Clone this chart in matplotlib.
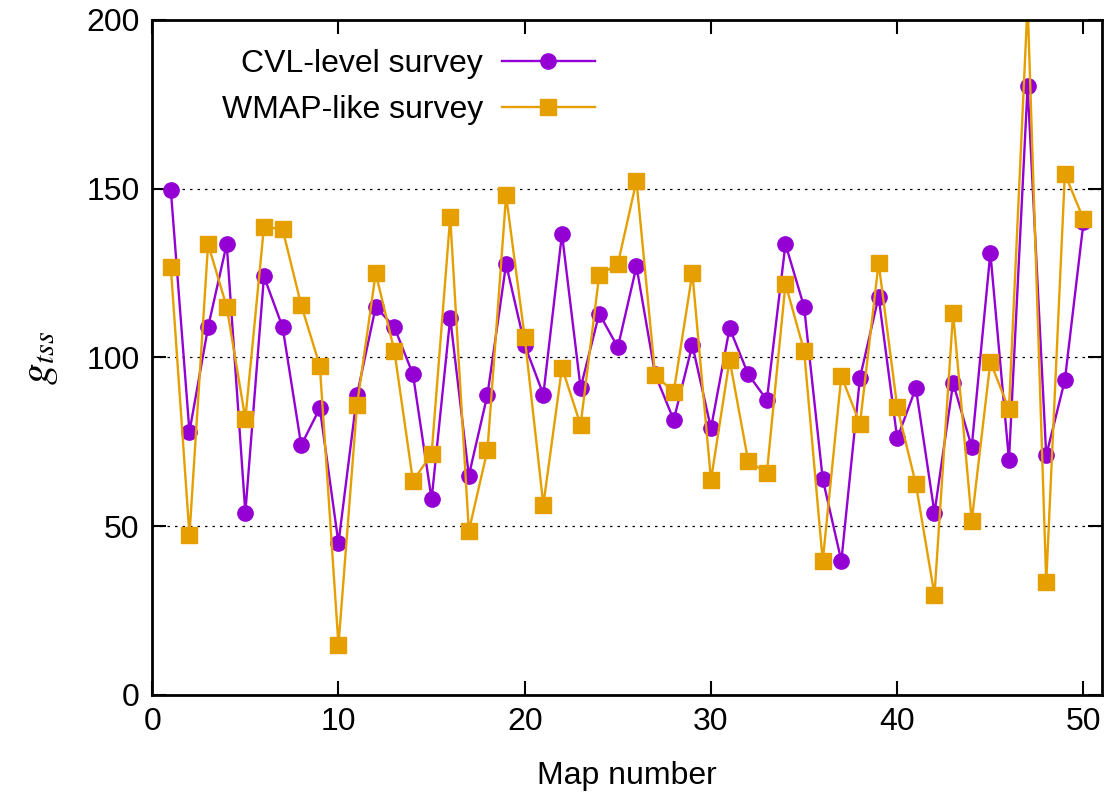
import numpy as np
import matplotlib
matplotlib.use('Agg')
import matplotlib.pyplot as plt

plt.rcParams['font.family'] = ['Liberation Sans', 'DejaVu Sans']
plt.rcParams['mathtext.fontset'] = 'stix'

# 地图编号和两种巡天的 g_tss 值
map_number = np.arange(1, 51)
cvl_level = [149.6, 78, 109, 133.6, 54, 124, 109, 74, 85, 45,
             89, 115, 109, 95, 58, 111.7, 65, 89, 127.7, 103.7,
             89, 136.6, 91, 113, 103, 127, 95, 81.5, 103.7, 79,
             108.7, 95, 87.4, 133.6, 115, 64, 39.7, 94, 118, 76,
             91, 54, 92.4, 73.5, 131, 69.6, 180.4, 71, 93.3, 140]
wmap_like = [126.8, 47.4, 133.6, 115, 81.8, 138.7, 138, 115.5, 97.5, 14.8,
             86, 125, 102, 63.4, 71.4, 141.6, 48.6, 72.6, 148, 106,
             56.3, 97, 80, 124.4, 127.7, 152.3, 94.8, 89.8, 125, 63.7,
             99.3, 69.3, 65.8, 121.8, 102, 39.7, 94.5, 80.3, 128, 85.3,
             62.5, 29.6, 113.2, 51.6, 98.7, 84.7, 205, 33.5, 154.4, 141]

fig = plt.figure(figsize=(11.11, 7.93), dpi=100)
ax = fig.add_axes([0.137, 0.1236, 0.855, 0.8512])

ax.plot(map_number, cvl_level, color='#9400D3', lw=1.7, marker='o', ms=11,
        label='CVL-level survey')
ax.plot(map_number, wmap_like, color='#E69F00', lw=1.7, marker='s', ms=12,
        label='WMAP-like survey')

ax.set_xlim(0, 51)
ax.set_ylim(0, 200)
ax.set_xticks([0, 10, 20, 30, 40, 50])
ax.set_yticks([0, 50, 100, 150, 200])
ax.tick_params(direction='in', length=10, width=1.5, labelsize=23,
               top=True, right=True, pad=9)
for s in ax.spines.values():
    s.set_linewidth(2)

# 网格线只画中间三条
for yv in [50, 100, 150]:
    ax.axhline(yv, color='black', lw=0.9, ls=(0, (2, 4)), zorder=0)

ax.set_xlabel('Map number', fontsize=23, labelpad=17)
ax.set_ylabel('$g_{tss}$', fontsize=31, labelpad=19)

ax.legend(loc='upper right', bbox_to_anchor=(0.496, 1.0), frameon=False,
          markerfirst=False, fontsize=23, handlelength=2.9,
          handletextpad=0.6, labelspacing=0.5)

fig.savefig('out.png', dpi=100)
